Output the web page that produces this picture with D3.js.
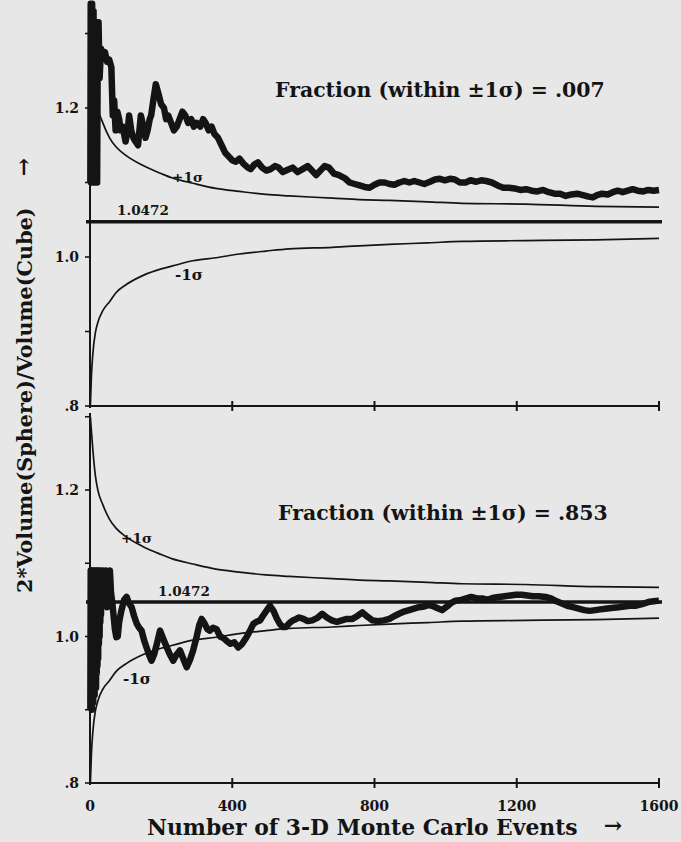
<!DOCTYPE html>
<html><head><meta charset="utf-8">
<script src="https://cdn.jsdelivr.net/npm/d3@7"></script>
<style>body{margin:0;background:#e6e6e6;}svg{display:block;}</style>
</head><body>
<svg id="c" width="681" height="842"></svg>
<script>
// ---- data ----
const xTicks = [0, 400, 800, 1200, 1600];
const yTickLabels = [0.8, 1.0, 1.2];
const yMinorTicks = [0.9, 1.1, 1.3];
const exactValue = 1.0472;

const topEvents = [1,2,3,4,5,6,7,8,9,10,11,12,13,14,15,16,17,18,19,20,22,24,27,31,36,42,48,54,60,64,68,72,77,82,86,92,100,106,110,116,122,128,135,139,143,150,156,162,168,172,178,185,192,200,208,214,220,228,236,244,252,260,268,276,285,292,300,310,318,325,334,342,350,360,370,380,390,400,410,420,432,444,452,462,472,484,496,508,520,530,542,556,570,584,598,612,624,636,648,660,672,686,700,716,730,744,758,772,786,800,814,828,842,856,870,884,898,912,926,940,956,970,984,998,1012,1026,1040,1056,1070,1086,1100,1114,1130,1146,1162,1178,1194,1210,1226,1242,1258,1274,1290,1306,1322,1338,1354,1370,1386,1402,1414,1426,1440,1456,1470,1484,1498,1512,1526,1540,1556,1570,1585,1600];
const topRatio = [1.10,1.34,1.10,1.33,1.10,1.34,1.11,1.32,1.10,1.33,1.12,1.31,1.10,1.30,1.13,1.29,1.10,1.27,1.15,1.10,1.30,1.315,1.24,1.28,1.27,1.275,1.262,1.265,1.255,1.19,1.21,1.17,1.195,1.185,1.17,1.175,1.155,1.17,1.19,1.17,1.16,1.155,1.15,1.17,1.19,1.175,1.16,1.17,1.185,1.19,1.21,1.232,1.22,1.205,1.20,1.185,1.19,1.18,1.17,1.175,1.185,1.195,1.19,1.18,1.185,1.175,1.18,1.175,1.185,1.18,1.17,1.175,1.165,1.16,1.15,1.14,1.135,1.13,1.128,1.132,1.125,1.12,1.118,1.124,1.127,1.12,1.116,1.118,1.122,1.12,1.114,1.117,1.12,1.114,1.118,1.122,1.116,1.11,1.116,1.122,1.12,1.112,1.11,1.106,1.10,1.098,1.096,1.094,1.093,1.097,1.10,1.10,1.098,1.097,1.10,1.102,1.10,1.102,1.10,1.098,1.101,1.104,1.105,1.103,1.105,1.104,1.10,1.10,1.103,1.101,1.103,1.102,1.10,1.096,1.093,1.093,1.092,1.09,1.091,1.089,1.088,1.09,1.087,1.085,1.085,1.082,1.084,1.085,1.083,1.081,1.08,1.083,1.085,1.084,1.087,1.089,1.087,1.089,1.091,1.089,1.088,1.09,1.089,1.09];

const bottomEvents = [1,2,3,4,5,6,7,8,9,10,11,12,13,14,15,16,17,18,19,20,21,22,23,24,25,26,27,28,29,30,31,32,34,37,41,44,48,52,56,59,62,66,70,74,78,82,88,96,103,110,117,124,131,138,145,152,159,166,173,180,188,197,205,216,225,234,243,253,262,272,281,290,300,307,314,322,330,337,346,356,366,375,384,395,406,417,428,440,450,459,468,478,486,496,506,516,525,534,543,551,560,570,580,588,600,612,625,638,653,666,680,694,708,722,738,752,766,780,794,810,826,842,856,869,883,897,911,925,940,952,962,976,990,1004,1016,1028,1044,1058,1072,1088,1103,1118,1134,1150,1166,1182,1198,1214,1230,1246,1262,1281,1296,1312,1327,1342,1358,1374,1390,1405,1421,1435,1449,1466,1486,1502,1518,1533,1550,1570,1585,1600];
const bottomRatio = [0.90,1.09,0.91,1.09,0.90,1.09,0.92,1.08,0.91,1.09,0.93,1.09,0.92,1.08,0.94,1.09,0.93,1.09,0.95,1.08,0.96,1.09,0.97,1.09,0.99,1.08,1.0,1.09,1.02,1.08,1.03,1.09,1.05,1.09,1.045,1.09,1.04,1.085,1.09,1.06,1.049,1.03,1.01,0.999,1.0,1.02,1.035,1.05,1.054,1.045,1.04,1.028,1.018,1.012,1.008,0.995,0.985,0.975,0.967,0.975,0.99,1.008,0.998,0.985,0.975,0.967,0.975,0.981,0.97,0.958,0.968,0.981,1.0,1.015,1.024,1.018,1.01,1.008,1.012,1.01,1.0,0.998,0.994,0.99,0.992,0.985,0.99,0.999,1.008,1.017,1.02,1.022,1.028,1.035,1.042,1.035,1.025,1.017,1.013,1.013,1.018,1.022,1.024,1.026,1.024,1.021,1.022,1.025,1.031,1.026,1.022,1.02,1.022,1.024,1.024,1.028,1.033,1.027,1.022,1.021,1.022,1.024,1.028,1.031,1.034,1.036,1.038,1.04,1.041,1.043,1.042,1.039,1.036,1.041,1.046,1.049,1.05,1.052,1.054,1.052,1.052,1.05,1.053,1.054,1.055,1.056,1.057,1.057,1.056,1.055,1.055,1.054,1.052,1.048,1.045,1.042,1.04,1.038,1.036,1.035,1.036,1.037,1.038,1.039,1.04,1.041,1.042,1.042,1.044,1.047,1.048,1.049];

const sigmaEvents = [1,4,8,15,22,36,55,73,102,148,200,232,289,354,420,495,560,681,757,841,950,1046,1224,1422,1600];
const sigmaPlus  = [1.30,1.28,1.255,1.22,1.20,1.18,1.16,1.148,1.136,1.123,1.112,1.106,1.099,1.092,1.088,1.084,1.082,1.079,1.077,1.076,1.074,1.072,1.071,1.068,1.067];
const sigmaMinus = [0.80,0.84,0.87,0.898,0.912,0.928,0.94,0.952,0.963,0.975,0.984,0.988,0.995,0.999,1.004,1.008,1.011,1.013,1.015,1.017,1.019,1.021,1.022,1.023,1.025];

const fractionTexts = ["Fraction (within \u00b11\u03c3) = .007", "Fraction (within \u00b11\u03c3) = .853"];

// ---- drawing ----
const svg = d3.select("#c");
const ink = "#141414";
const FONT = "'DejaVu Serif', serif";
svg.append("rect").attr("width",681).attr("height",842).attr("fill","#e7e7e7");

const x = d3.scaleLinear().domain([0,1600]).range([90,659]);
const yTop = d3.scaleLinear().domain([0.8,1.2]).range([406,108]);
const yBot = d3.scaleLinear().domain([0.8,1.2]).range([783,490]);

function fit(sel, target){
  const w = sel.node().getComputedTextLength();
  sel.attr("font-size", parseFloat(sel.attr("font-size"))*target/w);
}

function panel(y, events, ratio, axisTop, cfg){
  const g = svg.append("g");
  const sline = d3.line().x(d=>x(d[0])).y(d=>y(d[1])).curve(d3.curveMonotoneX);
  g.append("path").attr("d", sline(sigmaEvents.map((n,i)=>[n,sigmaPlus[i]])))
    .attr("fill","none").attr("stroke",ink).attr("stroke-width",1.7);
  g.append("path").attr("d", sline(sigmaEvents.map((n,i)=>[n,sigmaMinus[i]])))
    .attr("fill","none").attr("stroke",ink).attr("stroke-width",1.7);
  g.append("line").attr("x1",x(0)-4).attr("x2",x(1600)+3)
    .attr("y1",y(exactValue)).attr("y2",y(exactValue))
    .attr("stroke",ink).attr("stroke-width",3.5);
  g.append("line").attr("x1",x(0)).attr("x2",x(1600)).attr("y1",y(0.8)).attr("y2",y(0.8))
    .attr("stroke",ink).attr("stroke-width",2);
  g.selectAll(".xt").data(xTicks.slice(1)).join("line")
    .attr("x1",d=>x(d)).attr("x2",d=>x(d)).attr("y1",y(0.8)-5).attr("y2",y(0.8)+5)
    .attr("stroke",ink).attr("stroke-width",2);
  g.append("line").attr("x1",x(0)).attr("x2",x(0)).attr("y1",y(axisTop)).attr("y2",y(0.8)+2)
    .attr("stroke",ink).attr("stroke-width",2);
  g.selectAll(".yt").data(yTickLabels.concat(yMinorTicks)).join("line")
    .attr("x1",x(0)-5).attr("x2",x(0)).attr("y1",d=>y(d)).attr("y2",d=>y(d))
    .attr("stroke",ink).attr("stroke-width",1.6);
  g.selectAll(".yl").data(yTickLabels).join("text")
    .attr("x",79).attr("y",d=>y(d)+5).attr("text-anchor","end")
    .attr("font-family",FONT).attr("font-weight","bold").attr("font-size",14).attr("fill",ink)
    .text(d=>d===0.8?".8":d3.format(".1f")(d));
  const dline = d3.line().x(d=>x(d[0])).y(d=>y(d[1]));
  g.append("path").attr("d", dline(events.map((n,i)=>[n,ratio[i]])))
    .attr("fill","none").attr("stroke",ink).attr("stroke-width",6.5)
    .attr("stroke-linejoin","round").attr("stroke-linecap","butt");
  const t = g.append("text").attr("x",cfg.titleX).attr("y",cfg.titleY)
    .attr("font-family",FONT).attr("font-weight","bold").attr("font-size",20).attr("fill",ink)
    .text(cfg.title);
  fit(t, 330);
  const ann = (tx,ax,ay,w)=>{const s=g.append("text").attr("x",ax).attr("y",ay)
    .attr("font-family",FONT).attr("font-weight","bold").attr("font-size",14).attr("fill",ink).text(tx); fit(s,w);};
  ann("+1\u03c3", cfg.plus[0], cfg.plus[1], 31);
  ann("1.0472", cfg.exact[0], cfg.exact[1], 52);
  ann("-1\u03c3", cfg.minus[0], cfg.minus[1], 28);
}

panel(yTop, topEvents, topRatio, 1.34, {title: fractionTexts[0], titleX:275, titleY:97,
  plus:[172,182], exact:[117,215], minus:[175,280]});
panel(yBot, bottomEvents, bottomRatio, 1.305, {title: fractionTexts[1], titleX:278, titleY:520,
  plus:[121,543], exact:[158,596], minus:[123,684]});

svg.selectAll(".xl").data(xTicks).join("text")
  .attr("x",d=>x(d)).attr("y",811).attr("text-anchor","middle")
  .attr("font-family",FONT).attr("font-weight","bold").attr("font-size",14).attr("fill",ink)
  .text(d=>d);

const xl = svg.append("text").attr("x",147).attr("y",835)
  .attr("font-family",FONT).attr("font-weight","bold").attr("font-size",20).attr("fill",ink)
  .text("Number of 3-D Monte Carlo Events");
fit(xl, 431);
svg.append("text").attr("x",613).attr("y",833).attr("text-anchor","middle")
  .attr("font-family",FONT).attr("font-weight","bold").attr("font-size",22).attr("fill",ink).text("\u2192");

const yl = svg.append("text").attr("transform","translate(32,593) rotate(-90)")
  .attr("font-family",FONT).attr("font-weight","bold").attr("font-size",20).attr("fill",ink)
  .text("2*Volume(Sphere)/Volume(Cube)");
fit(yl, 386);
svg.append("text").attr("transform","translate(31,167) rotate(-90)").attr("text-anchor","middle")
  .attr("font-family",FONT).attr("font-weight","bold").attr("font-size",22).attr("fill",ink).text("\u2192");
</script>
</body></html>
